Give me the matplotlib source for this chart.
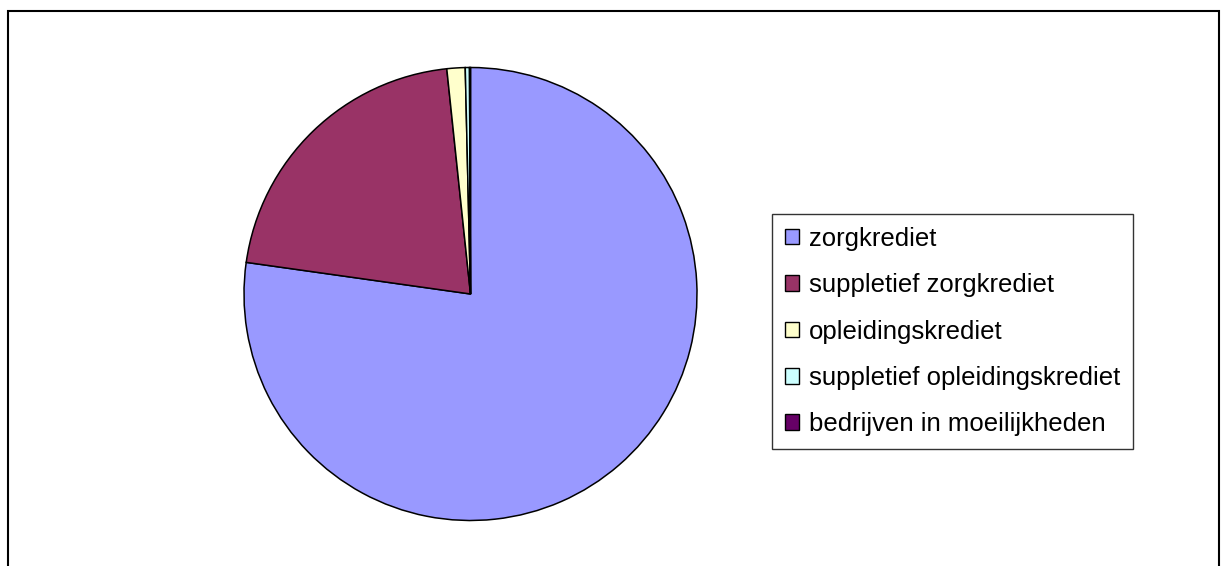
import matplotlib
matplotlib.use("Agg")
import matplotlib.pyplot as plt
from matplotlib.patches import Rectangle

categories = ["zorgkrediet", "suppletief zorgkrediet", "opleidingskrediet",
              "suppletief opleidingskrediet", "bedrijven in moeilijkheden"]
values = [77.23, 21.10, 1.30, 0.30, 0.07]
colors = ["#9999FF", "#993366", "#FFFFCC", "#CCFFFF", "#660066"]

plt.rcParams['font.family'] = ['Liberation Sans', 'DejaVu Sans']

W, H = 1221, 566
fig = plt.figure(figsize=(W / 100, H / 100), dpi=100)

cx, cy, r = 470.5, 294, 226.5
ax = fig.add_axes([(cx - r) / W, (H - cy - r) / H, 2 * r / W, 2 * r / H])
wedges, _ = ax.pie(values, colors=colors, startangle=90, counterclock=False,
                   radius=1.0, wedgeprops=dict(edgecolor="black", linewidth=1.1))
ax.set_xlim(-1, 1)
ax.set_ylim(-1, 1)
ax.set_aspect("equal")
ax.axis("off")

# outer chart frame
fig.patches.append(Rectangle((8 / W, -0.1), (1219 - 8) / W, 1.1 - 11 / H,
                             transform=fig.transFigure, fill=False,
                             edgecolor="black", linewidth=1.5))

leg = fig.legend(wedges, categories, loc="upper left",
                 bbox_to_anchor=(772 / W, 1 - 214 / H),
                 fontsize=18.5, frameon=True, fancybox=False,
                 handlelength=0.55, handleheight=0.55, handletextpad=0.38,
                 labelspacing=0.87, borderpad=0.5, borderaxespad=0)
leg.get_frame().set_edgecolor("black")
leg.get_frame().set_linewidth(1.0)
for h in leg.legend_handles:
    h.set_edgecolor("black")
    h.set_linewidth(1.0)

fig.savefig("out.png", dpi=100)
